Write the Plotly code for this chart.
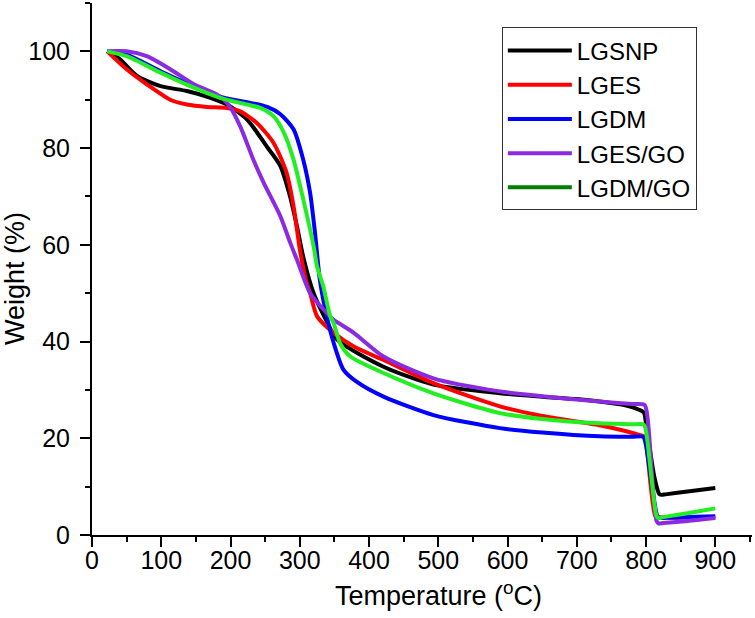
import plotly.graph_objects as go

# ---- data ----
t_lgsnp = [22, 40, 65, 99, 137, 171, 195, 224, 252, 272, 286, 296, 305, 320, 339, 354, 421, 493, 589, 650, 700, 733, 770, 790, 797, 800, 812, 819, 822, 828, 860, 900]
w_lgsnp = [100, 98.4, 94.9, 92.8, 91.8, 90.4, 89.0, 85.9, 80.4, 76.3, 70.0, 63.8, 57.5, 50.0, 44.2, 40.4, 34.8, 31.1, 29.3, 28.6, 28.1, 27.6, 26.8, 25.9, 25.3, 23.0, 12.0, 8.5, 8.3, 8.4, 9.0, 9.7]

t_lges = [22, 50, 79, 113, 137, 166, 195, 214, 238, 262, 281, 291, 301, 310, 315, 325, 349, 380, 421, 493, 589, 650, 733, 770, 790, 798, 801, 813, 816, 825, 860, 900]
w_lges = [100, 96.3, 93.2, 90.0, 89.0, 88.5, 88.3, 87.6, 85.2, 81.1, 74.9, 68.0, 58.3, 52.1, 50.0, 45.2, 41.8, 38.8, 36.2, 31.4, 26.6, 24.6, 22.7, 21.5, 20.7, 20.3, 18.0, 4.0, 3.8, 3.6, 3.6, 3.6]

t_lgdm = [22, 50, 99, 147, 190, 224, 253, 272, 291, 305, 315, 322, 329, 339, 349, 363, 382, 421, 493, 589, 650, 733, 780, 796, 800, 817, 821, 828, 860, 900]
w_lgdm = [100, 99.3, 95.9, 92.8, 90.4, 89.5, 88.5, 87.0, 83.9, 77.6, 70.7, 62.5, 52.8, 45.2, 39.7, 34.2, 31.7, 28.6, 24.8, 22.1, 21.2, 20.4, 20.3, 20.3, 18.5, 3.7, 3.5, 3.55, 3.7, 3.9]

t_lgesgo = [22, 50, 79, 113, 147, 180, 197, 214, 233, 248, 272, 286, 296, 315, 339, 349, 378, 421, 493, 589, 650, 733, 780, 798, 802, 815, 818, 825, 860, 900]
w_lgesgo = [100, 100, 99.0, 96.3, 93.2, 91.1, 89.0, 84.5, 77.6, 72.8, 65.9, 60.5, 56.9, 50.0, 45.9, 44.5, 41.8, 36.9, 32.4, 29.7, 28.7, 27.6, 27.1, 26.9, 24.5, 3.0, 2.4, 2.5, 2.9, 3.5]

t_lgdmgo = [22, 50, 99, 147, 185, 224, 243, 262, 277, 291, 305, 320, 325, 334, 344, 349, 358, 373, 421, 493, 589, 650, 733, 780, 797, 801, 815, 818, 825, 860, 900]
w_lgdmgo = [100, 99.0, 95.6, 92.5, 90.4, 89.0, 88.3, 86.6, 83.2, 77.6, 69.4, 59.7, 55.5, 51.4, 45.2, 43.8, 39.7, 36.9, 33.5, 29.3, 25.2, 24.0, 23.1, 22.9, 22.8, 20.5, 4.0, 3.5, 3.7, 4.5, 5.5]

series_names = ["LGSNP", "LGES", "LGDM", "LGES/GO", "LGDM/GO"]

x_tick_vals = [0, 100, 200, 300, 400, 500, 600, 700, 800, 900]
y_tick_vals = [0, 20, 40, 60, 80, 100]

# ---- figure ----
FONT = "Liberation Sans, Arial, sans-serif"
fig = go.Figure()

series = [
    (t_lgsnp, w_lgsnp, "#000000", None),
    (t_lges, w_lges, "#ff0000", None),
    (t_lgdm, w_lgdm, "#0000ff", None),
    (t_lgesgo, w_lgesgo, "#8a2be2", None),
    (t_lgdmgo, w_lgdmgo, "#22ee22", "#008000"),
]

for name, (tx, wy, col, legcol) in zip(series_names, series):
    line = dict(color=col, width=4, shape="spline", smoothing=0.7)
    if legcol is None:
        fig.add_trace(go.Scatter(x=tx, y=wy, mode="lines", name=name, line=line))
    else:
        fig.add_trace(go.Scatter(x=tx, y=wy, mode="lines", name=name, line=line,
                                 showlegend=False))
        fig.add_trace(go.Scatter(x=[None], y=[None], mode="lines", name=name,
                                 line=dict(color=legcol, width=4)))

axis_common = dict(
    showgrid=False, zeroline=False, showline=True, linecolor="#000000", linewidth=2,
    ticks="outside", ticklen=10, tickwidth=2, tickcolor="#000000",
    tickfont=dict(family=FONT, size=25, color="#000000"),
    mirror=False,
)

fig.update_xaxes(range=[0, 953], tickvals=x_tick_vals, ticklabelstandoff=-8,
                 minor=dict(dtick=50, ticks="outside", ticklen=5, tickwidth=2, tickcolor="#000000"),
                 **axis_common)
fig.update_yaxes(range=[0, 110], tickvals=y_tick_vals, ticklabelstandoff=5,
                 minor=dict(dtick=10, ticks="outside", ticklen=5, tickwidth=2, tickcolor="#000000"),
                 **axis_common)

fig.update_layout(
    width=755, height=618,
    margin=dict(l=92, r=3, t=3, b=83),
    paper_bgcolor="white", plot_bgcolor="white",
    font=dict(family=FONT, color="#000000"),
    legend=dict(x=0.621, y=0.954, xanchor="left", yanchor="top",
                bordercolor="#333333", borderwidth=1, bgcolor="rgba(255,255,255,0)",
                font=dict(family=FONT, size=24, color="#000000"),
                itemwidth=64, tracegroupgap=0),
    annotations=[
        dict(text="Temperature (<sup>o</sup>C)", xref="paper", yref="paper",
             x=(438 - 92) / 660, y=-(594 - 535) / 532, xanchor="center", yanchor="middle",
             showarrow=False, font=dict(family=FONT, size=27, color="#000000")),
        dict(text="Weight (%)", xref="paper", yref="paper", textangle=-90,
             x=-(92 - 15) / 660, y=(535 - 279) / 532, xanchor="center", yanchor="middle",
             showarrow=False, font=dict(family=FONT, size=27, color="#000000")),
    ],
)

fig.write_html("out.html", config={"displayModeBar": False},
               post_script="document.body.style.margin='0';document.body.style.overflow='hidden';")
